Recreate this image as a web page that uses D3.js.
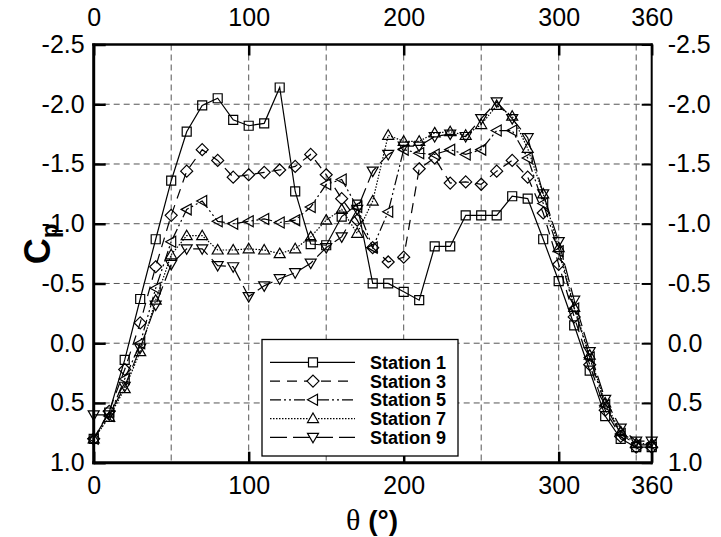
<!DOCTYPE html>
<html><head><meta charset="utf-8">
<script src="https://cdn.jsdelivr.net/npm/d3@7"></script>
<style>body{margin:0;background:#fff}svg{display:block}</style>
</head><body>
<script>
const angles = [0,10,20,30,40,50,60,70,80,90,100,110,120,130,140,150,160,170,180,190,200,210,220,230,240,250,260,270,280,290,300,310,320,330,340,350,360];
const station1 = [0.80,0.58,0.14,-0.37,-0.87,-1.36,-1.77,-1.99,-2.05,-1.87,-1.82,-1.84,-2.14,-1.27,-0.83,-0.82,-1.06,-1.16,-0.50,-0.50,-0.43,-0.36,-0.81,-0.81,-1.07,-1.07,-1.07,-1.23,-1.21,-0.87,-0.52,-0.15,0.23,0.61,0.80,0.87,0.87];
const station3 = [0.80,0.57,0.22,-0.17,-0.64,-1.07,-1.44,-1.62,-1.53,-1.39,-1.41,-1.43,-1.45,-1.48,-1.58,-1.41,-1.21,-1.03,-0.80,-0.68,-0.72,-1.46,-1.55,-1.34,-1.35,-1.33,-1.44,-1.53,-1.39,-1.09,-0.66,-0.22,0.18,0.56,0.78,0.87,0.87];
const station5 = [0.80,0.61,0.30,0.00,-0.46,-0.85,-1.12,-1.19,-1.02,-1.00,-1.02,-1.04,-1.01,-1.03,-1.14,-1.33,-1.37,-1.14,-0.80,-1.10,-1.62,-1.59,-1.58,-1.62,-1.58,-1.62,-1.78,-1.78,-1.55,-1.17,-0.77,-0.29,0.12,0.52,0.76,0.85,0.85];
const station7 = [0.80,0.62,0.38,0.07,-0.36,-0.74,-0.90,-0.90,-0.78,-0.78,-0.79,-0.78,-0.75,-0.79,-0.89,-1.03,-1.12,-0.92,-1.19,-1.74,-1.69,-1.69,-1.76,-1.77,-1.74,-1.83,-1.99,-1.90,-1.63,-1.25,-0.80,-0.30,0.10,0.50,0.74,0.84,0.84];
const station9 = [0.60,0.60,0.36,0.04,-0.32,-0.66,-0.79,-0.79,-0.65,-0.64,-0.39,-0.48,-0.54,-0.59,-0.67,-0.80,-0.89,-1.12,-1.44,-1.58,-1.65,-1.65,-1.73,-1.75,-1.73,-1.88,-2.02,-1.88,-1.72,-1.25,-0.85,-0.36,0.07,0.47,0.71,0.82,0.82];
const seriesNames = ["Station 1","Station 3","Station 5","Station 7","Station 9"];
const xTicks = [0,100,200,300,360];
const xGrid = [50,100,150,200,250,300,350];
const yTicks = [-2.5,-2.0,-1.5,-1.0,-0.5,0.0,0.5,1.0];

const W = 721, H = 537;
const svg = d3.select("body").append("svg").attr("width", W).attr("height", H);
const X0 = 93.7, X1 = 651.7, Y0 = 44.5, Y1 = 462.7;
const x = d3.scaleLinear().domain([0,360]).range([X0,X1]);
const y = d3.scaleLinear().domain([-2.5,1.0]).range([Y0,Y1]);

const styles = [
  {dash:null, marker:"square"},
  {dash:"10,7", marker:"diamond"},
  {dash:"11,3,2,3,2,3", marker:"left"},
  {dash:"1.5,1.5", marker:"up"},
  {dash:"17,6", marker:"down"}
];
const data = [station1, station3, station5, station7, station9];

function markerPath(t){
  switch(t){
    case "square": return "M-4.5,-4.5h9v9h-9Z";
    case "diamond": return "M0,-6L6,0L0,6L-6,0Z";
    case "left": return "M-5.5,0L4.5,-5.5L4.5,5.5Z";
    case "up": return "M0,-5.5L5.5,4L-5.5,4Z";
    case "down": return "M0,5.5L5.5,-4L-5.5,-4Z";
  }
}

// grid
const grid = svg.append("g").attr("stroke","#555").attr("stroke-width",1).attr("stroke-dasharray","6,4").attr("fill","none");
grid.selectAll("line.v").data(xGrid).join("line").attr("class","v")
  .attr("x1",d=>x(d)).attr("x2",d=>x(d)).attr("y1",Y0).attr("y2",Y1);
grid.selectAll("line.h").data(yTicks.filter(d=>d>-2.5&&d<1.0)).join("line").attr("class","h")
  .attr("x1",X0).attr("x2",X1).attr("y1",d=>y(d)).attr("y2",d=>y(d));

// axes
const fmt = d => d.toFixed(1);
const fontSize = "25px";
function styleAxis(g, w){
  g.select(".domain").remove();
  g.selectAll(".tick line").attr("stroke","#000").attr("stroke-width",w);
  g.selectAll(".tick text").attr("fill","#000").style("font-family","'Liberation Sans', Arial, sans-serif").style("font-size",fontSize);
}
svg.append("g").attr("transform",`translate(${X0},0)`)
  .call(d3.axisLeft(y).tickValues(yTicks).tickFormat(fmt).tickSizeInner(-12).tickSizeOuter(0).tickPadding(9))
  .call(g=>styleAxis(g,2.5));
svg.append("g").attr("transform",`translate(${X1},0)`)
  .call(d3.axisRight(y).tickValues(yTicks).tickFormat(fmt).tickSizeInner(-10).tickSizeOuter(0).tickPadding(16))
  .call(g=>styleAxis(g,2));
svg.append("g").attr("transform",`translate(0,${Y1})`)
  .call(d3.axisBottom(x).tickValues(xTicks).tickFormat(d3.format("d")).tickSizeInner(-11).tickSizeOuter(0).tickPadding(14))
  .call(g=>styleAxis(g,2.5));
svg.append("g").attr("transform",`translate(0,${Y0})`)
  .call(d3.axisTop(x).tickValues(xTicks).tickFormat(d3.format("d")).tickSizeInner(-11).tickSizeOuter(0).tickPadding(19))
  .call(g=>styleAxis(g,2.5));

// series
const line = d3.line().x((d,i)=>x(angles[i])).y(d=>y(d));
data.forEach((vals,k)=>{
  const g = svg.append("g");
  g.append("path").datum(vals).attr("d",line).attr("fill","none").attr("stroke","#000")
    .attr("stroke-width",1.2).attr("stroke-dasharray",styles[k].dash);
  g.selectAll("path.m").data(vals).join("path").attr("class","m")
    .attr("transform",(d,i)=>`translate(${x(angles[i])},${y(d)})`)
    .attr("d",markerPath(styles[k].marker)).attr("fill","none").attr("stroke","#000").attr("stroke-width",1.2);
});

// frame
const fr = svg.append("g").attr("stroke","#000").attr("fill","none");
fr.append("line").attr("x1",X0).attr("x2",X0).attr("y1",Y0-1).attr("y2",Y1+1.5).attr("stroke-width",3);
fr.append("line").attr("x1",X0-1.5).attr("x2",X1+1).attr("y1",Y1).attr("y2",Y1).attr("stroke-width",3);
fr.append("line").attr("x1",X0-1.5).attr("x2",X1+1).attr("y1",Y0).attr("y2",Y0).attr("stroke-width",2.5);
fr.append("line").attr("x1",X1).attr("x2",X1).attr("y1",Y0-1).attr("y2",Y1+1.5).attr("stroke-width",2);

// legend
const lg = svg.append("g");
lg.append("rect").attr("x",262).attr("y",339.5).attr("width",196).attr("height",116.5)
  .attr("fill","#fff").attr("stroke","#000").attr("stroke-width",1.3);
seriesNames.forEach((name,k)=>{
  const yy = 362.3 + k*18.75;
  lg.append("line").attr("x1",270).attr("x2",355).attr("y1",yy).attr("y2",yy)
    .attr("stroke","#000").attr("stroke-width",1.2).attr("stroke-dasharray",styles[k].dash);
  lg.append("path").attr("transform",`translate(313,${yy})`).attr("d",markerPath(styles[k].marker))
    .attr("fill","#fff").attr("stroke","#000").attr("stroke-width",1.2);
  lg.append("text").attr("x",370).attr("y",yy).attr("dy","0.36em").text(name)
    .style("font-family","'Liberation Sans', Arial, sans-serif").style("font-size","18px").style("font-weight","bold");
});

// axis titles
const yt = svg.append("text").attr("transform","translate(50,244) rotate(-90)").attr("text-anchor","middle")
  .style("font-family","'Liberation Sans', Arial, sans-serif").style("font-weight","bold");
yt.append("tspan").text("C").style("font-size","36px");
yt.append("tspan").text("p").attr("dy",8).style("font-size","24px");

const xt = svg.append("text").attr("x",372).attr("y",530).attr("text-anchor","middle");
xt.append("tspan").text("θ").style("font-family","'Liberation Serif', 'Times New Roman', serif").style("font-size","30px");
xt.append("tspan").text(" (°)").style("font-family","'Liberation Sans', Arial, sans-serif").style("font-size","28px").style("font-weight","bold");
</script>
</body></html>
